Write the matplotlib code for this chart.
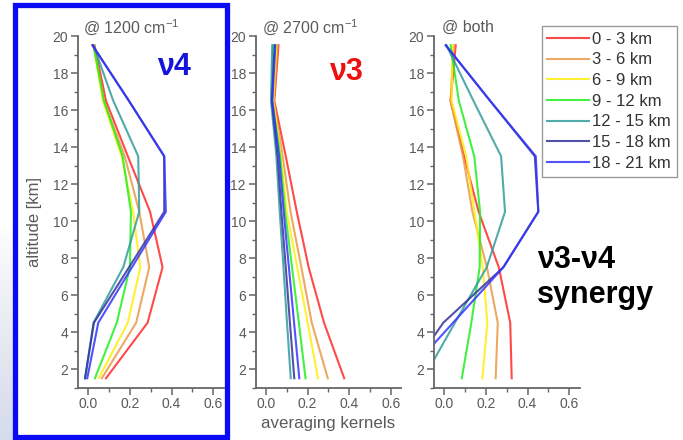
import numpy as np
import matplotlib
matplotlib.use("Agg")
import matplotlib.pyplot as plt
from matplotlib.patches import Rectangle
from matplotlib.ticker import MultipleLocator

plt.rcParams['font.family'] = ['Liberation Sans', 'DejaVu Sans']

# altitude levels (km) at which the kernels are given
altitude = [1.5, 4.5, 7.5, 10.5, 13.5, 16.5, 19.5]

layer_labels = ['0 - 3 km', '3 - 6 km', '6 - 9 km', '9 - 12 km',
                '12 - 15 km', '15 - 18 km', '18 - 21 km']
layer_colors = ['#ff2a2a', '#e89a48', '#ffee10', '#22ee22',
                '#339c9c', '#33339e', '#3434ff']

# averaging kernels @ 1200 cm-1 (nu4 band)
ak_1200 = [
    [0.085, 0.285, 0.357, 0.297, 0.190, 0.085, 0.030],
    [0.065, 0.230, 0.293, 0.245, 0.175, 0.075, 0.025],
    [0.050, 0.190, 0.250, 0.215, 0.160, 0.070, 0.025],
    [0.032, 0.137, 0.200, 0.205, 0.165, 0.075, 0.025],
    [-0.015, 0.025, 0.168, 0.245, 0.240, 0.120, 0.025],
    [-0.016, 0.027, 0.196, 0.365, 0.365, 0.195, 0.020],
    [-0.005, 0.048, 0.210, 0.373, 0.365, 0.195, 0.020],
]

# averaging kernels @ 2700 cm-1 (nu3 band)
ak_2700 = [
    [0.376, 0.279, 0.205, 0.148, 0.095, 0.040, 0.060],
    [0.297, 0.220, 0.170, 0.118, 0.080, 0.037, 0.055],
    [0.250, 0.200, 0.150, 0.100, 0.072, 0.035, 0.050],
    [0.190, 0.158, 0.125, 0.092, 0.068, 0.030, 0.035],
    [0.119, 0.101, 0.084, 0.066, 0.050, 0.024, 0.030],
    [0.136, 0.115, 0.095, 0.074, 0.056, 0.028, 0.042],
    [0.160, 0.135, 0.110, 0.085, 0.063, 0.030, 0.045],
]

# averaging kernels using both bands
ak_both = [
    [0.324, 0.317, 0.262, 0.165, 0.095, 0.030, 0.055],
    [0.247, 0.257, 0.205, 0.135, 0.090, 0.030, 0.045],
    [0.183, 0.207, 0.185, 0.145, 0.105, 0.035, 0.040],
    [0.084, 0.130, 0.170, 0.172, 0.144, 0.070, 0.030],
    [-0.100, 0.051, 0.204, 0.292, 0.273, 0.140, 0.010],
    [-0.190, -0.005, 0.284, 0.452, 0.435, 0.220, 0.007],
    [-0.200, 0.042, 0.284, 0.452, 0.440, 0.220, 0.007],
]

panel_titles = ['@ 1200 cm$^{\\mathregular{-1}}$', '@ 2700 cm$^{\\mathregular{-1}}$', '@ both']

W, H = 683, 440
fig = plt.figure(figsize=(W / 100, H / 100), dpi=100)
fig.patch.set_facecolor('white')

# soft shaded strip at the lower left edge
bg = fig.add_axes([0, 0, 14 / W, 1], zorder=-5)
rows = np.arange(H)
t = np.clip((rows - 225) / (H - 225), 0, 1) ** 0.8
c_top = np.array([1.0, 1.0, 1.0])
c_bot = np.array([0.84, 0.86, 0.92])
img = c_top[None, None, :] * (1 - t)[:, None, None] + c_bot[None, None, :] * t[:, None, None]
bg.imshow(img, aspect='auto', extent=[0, 1, 0, 1], origin='upper')
bg.axis('off')

gray = '#5a5a5a'
lefts = [77.9, 255.6, 433.9]
ax_w = 145.6
ax_bottom = 387.5
ax_top = 36.0

axes = []
for left in lefts:
    ax = fig.add_axes([left / W, 1 - ax_bottom / H, ax_w / W, (ax_bottom - ax_top) / H])
    ax.set_xlim(-0.05, 0.65)
    ax.set_ylim(1, 20)
    for side in ('top', 'right'):
        ax.spines[side].set_visible(False)
    for side in ('left', 'bottom'):
        ax.spines[side].set_color('#666666')
        ax.spines[side].set_linewidth(1.3)
    ax.xaxis.set_minor_locator(MultipleLocator(0.1))
    ax.yaxis.set_minor_locator(MultipleLocator(1))
    ax.set_xticks([0.0, 0.2, 0.4, 0.6])
    ax.set_xticklabels(['0.0', '0.2', '0.4', '0.6'])
    ax.set_yticks(np.arange(2, 21, 2))
    ax.tick_params(which='major', direction='out', length=5, width=1.1,
                   color='#666666', labelsize=10, labelcolor=gray, pad=2)
    ax.tick_params(which='minor', direction='out', length=3, width=1.0, color='#666666')
    ax.patch.set_alpha(0)
    axes.append(ax)

for ax, data in zip(axes, [ak_1200, ak_2700, ak_both]):
    for vals, col, lab in zip(data, layer_colors, layer_labels):
        ax.plot(vals, altitude, color=col, lw=1.5, alpha=0.85, label=lab,
                solid_joinstyle='miter')

# panel titles
for left, title in zip([83, 262, 442], panel_titles):
    fig.text(left / W, 1 - 27 / H, title, fontsize=11.5, color=gray, ha='left', va='center')

fig.text(35 / W, 1 - 222 / H, 'altitude [km]', rotation=90, fontsize=12,
         color=gray, ha='center', va='center')
fig.text(328 / W, 1 - 423 / H, 'averaging kernels', fontsize=12.2,
         color=gray, ha='center', va='center')

# band annotations
fig.text(174 / W, 1 - 67 / H, 'ν4', fontsize=22, fontweight='bold',
         color='#1414dd', ha='center', va='center')
fig.text(346 / W, 1 - 72 / H, 'ν3', fontsize=22, fontweight='bold',
         color='#ee1111', ha='center', va='center')
fig.text(537 / W, 1 - 260 / H, 'ν3-ν4', fontsize=22, fontweight='bold',
         color='black', ha='left', va='center')
fig.text(537 / W, 1 - 295 / H, 'synergy', fontsize=22, fontweight='bold',
         color='black', ha='left', va='center')

handles, labels = axes[2].get_legend_handles_labels()
leg = fig.legend(handles, labels, loc='upper right',
                 bbox_to_anchor=(677 / W, 1 - 26 / H), fontsize=12,
                 frameon=True, fancybox=False, framealpha=1,
                 edgecolor='#9a9a9a', handlelength=2.5, handletextpad=0.2,
                 labelspacing=0.34, borderpad=0.35, borderaxespad=0)
leg.get_frame().set_linewidth(1.0)
for txt in leg.get_texts():
    txt.set_color('#333333')

# blue frame around the first panel
frame = Rectangle((14.5 / W, 1 - 436.5 / H), (227 - 14.5) / W, (436.5 - 5.3) / H,
                  transform=fig.transFigure, fill=False, edgecolor='#0a0af5',
                  linewidth=3.8, zorder=20)
fig.patches.append(frame)

fig.savefig('out.png', dpi=100)
